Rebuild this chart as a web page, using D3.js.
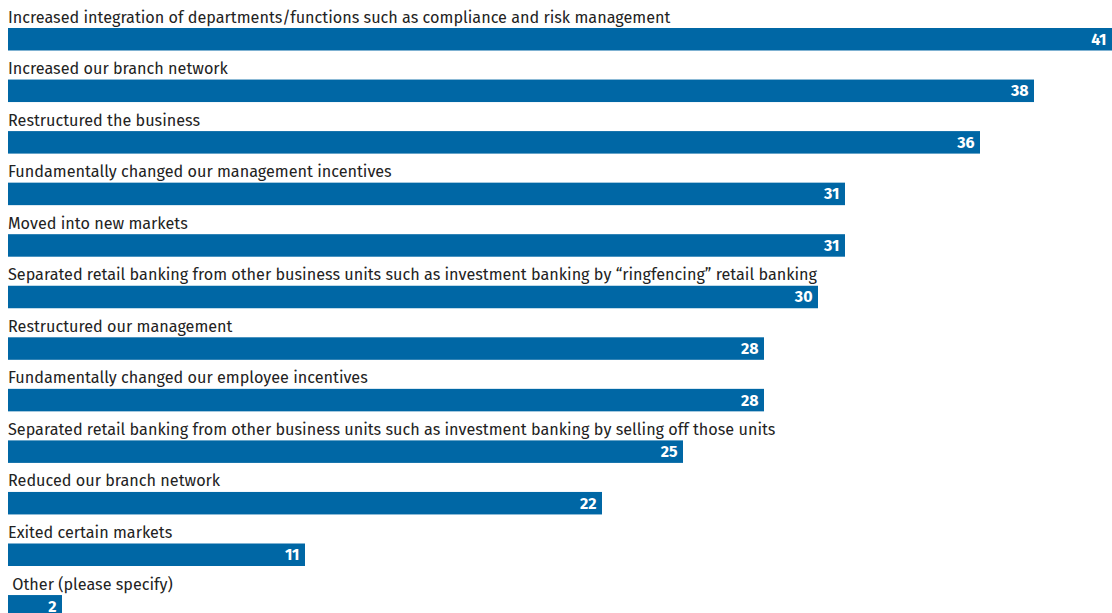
<!DOCTYPE html>
<html>
<head>
<meta charset="utf-8">
<script src="https://cdn.jsdelivr.net/npm/d3@7/dist/d3.min.js"></script>
<style>
  html, body { margin: 0; padding: 0; background: #ffffff; }
  svg { display: block; }
</style>
</head>
<body>
<svg id="chart" width="1112" height="613"></svg>
<script>
// Survey responses: actions taken, share of respondents (%)
const categories = [
  "Increased integration of departments/functions such as compliance and risk management",
  "Increased our branch network",
  "Restructured the business",
  "Fundamentally changed our management incentives",
  "Moved into new markets",
  "Separated retail banking from other business units such as investment banking by \u201cringfencing\u201d retail banking",
  "Restructured our management",
  "Fundamentally changed our employee incentives",
  "Separated retail banking from other business units such as investment banking by selling off those units",
  "Reduced our branch network",
  "Exited certain markets",
  " Other (please specify)"
];
const values = [41, 38, 36, 31, 31, 30, 28, 28, 25, 22, 11, 2];

const width = 1112, height = 613;
const left = 8;
const barColor = "#0067a5";
const fontFamily = "'Fira Sans', 'Open Sans', 'Noto Sans', sans-serif";

const svg = d3.select("#chart");

const x = d3.scaleLinear().domain([0, 41]).range([left, left + 1107]);
const band = d3.scaleBand()
  .domain(d3.range(categories.length))
  .range([0, 51.55 * categories.length])
  .paddingInner(0);

const barTop = 28, barH = 22.5;

const rows = svg.selectAll("g.row")
  .data(categories.map((c, i) => ({ label: c, value: values[i], i })))
  .join("g")
  .attr("class", "row")
  .attr("transform", d => `translate(0,${band(d.i) + barTop})`);

rows.append("rect")
  .attr("x", x(0))
  .attr("y", 0)
  .attr("width", d => x(d.value) - x(0))
  .attr("height", barH)
  .attr("fill", barColor);

const labels = rows.append("text")
  .attr("x", x(0))
  .attr("y", -5.5)
  .attr("font-family", fontFamily)
  .attr("font-size", 16)
  .attr("fill", "#222")
  .attr("xml:space", "preserve")
  .style("white-space", "pre")
  .text(d => d.label);

// fit the first label to its printed width
const w0 = labels.nodes()[0].getComputedTextLength();
const fs = 16 * 663 / w0;
labels.attr("font-size", fs);

rows.append("text")
  .attr("x", d => Math.min(x(d.value), width) - 5.5)
  .attr("y", barH / 2)
  .attr("dy", "0.34em")
  .attr("text-anchor", "end")
  .attr("font-family", fontFamily)
  .attr("font-weight", "bold")
  .attr("font-size", 16)
  .attr("fill", "#ffffff")
  .text(d => d.value);
</script>
</body>
</html>
